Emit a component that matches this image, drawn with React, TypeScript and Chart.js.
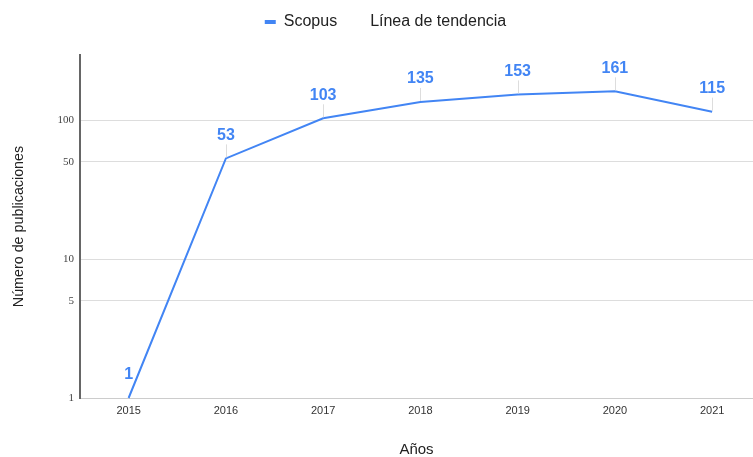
import React, { useEffect, useRef } from "react";
import { Chart, registerables } from "chart.js";

Chart.register(...registerables);

const years = [2015, 2016, 2017, 2018, 2019, 2020, 2021];
const scopusValues = [1, 53, 103, 135, 153, 161, 115];
const yTicks = [1, 5, 10, 50, 100];
const seriesName = "Scopus";
const trendName = "Línea de tendencia";
const xTitle = "Años";
const yTitle = "Número de publicaciones";

const BLUE = "#4285F4";
const SANS = "'Liberation Sans', Arial, sans-serif";

const legendHeightPlugin = {
  id: "legendHeight",
  beforeLayout(chart: any) {
    const lg = chart.legend;
    if (lg && !lg._fixedHeight) {
      const orig = lg.fit.bind(lg);
      lg.fit = function () {
        orig();
        this.height = 55;
      };
      lg._fixedHeight = true;
    }
    chart._legendShifted = false;
  },
  beforeDraw(chart: any) {
    const lg = chart.legend;
    if (lg && !chart._legendShifted) {
      lg.left += 9;
      lg.right += 9;
      chart._legendShifted = true;
    }
  },
};

const dataLabelsPlugin = {
  id: "dataLabels",
  afterDatasetsDraw(chart: any) {
    const meta = chart.getDatasetMeta(0);
    const ctx = chart.ctx;
    ctx.save();
    meta.data.forEach((pt: any, i: number) => {
      const x = pt.x;
      const y = pt.y;
      const ly = y - 23;
      if (i > 0) {
        ctx.strokeStyle = "#dddddd";
        ctx.lineWidth = 1;
        ctx.beginPath();
        ctx.moveTo(Math.round(x) + 0.5, ly + 9);
        ctx.lineTo(Math.round(x) + 0.5, y - 1);
        ctx.stroke();
      }
      ctx.fillStyle = BLUE;
      ctx.font = "bold 16px " + SANS;
      ctx.textAlign = "center";
      ctx.textBaseline = "middle";
      ctx.fillText(String(scopusValues[i]), x, ly);
    });
    ctx.restore();
  },
};

export default function App() {
  const ref = useRef<HTMLCanvasElement | null>(null);
  useEffect(() => {
    if (!ref.current) return;
    const chart = new Chart(ref.current, {
      type: "line",
      data: {
        datasets: [
          {
            label: seriesName,
            data: years.map((y, i) => ({ x: y, y: scopusValues[i] })),
            borderColor: BLUE,
            backgroundColor: BLUE,
            borderWidth: 2,
            pointRadius: 0,
            tension: 0,
            clip: false as any,
          },
          {
            label: trendName,
            data: [],
            borderColor: "rgba(0,0,0,0)",
            backgroundColor: "rgba(0,0,0,0)",
            borderWidth: 0,
            pointRadius: 0,
          },
        ],
      },
      options: {
        responsive: false,
        animation: false,
        layout: { padding: { top: 0, left: 0, right: 0, bottom: 0 } },
        plugins: {
          tooltip: { enabled: false },
          legend: {
            position: "top",
            labels: {
              font: { size: 16, family: SANS },
              color: "#222222",
              boxWidth: 11,
              boxHeight: 4,
              padding: 14,
              generateLabels(chart: any) {
                const items = (Chart as any).defaults.plugins.legend.labels.generateLabels(chart);
                return items.map((it: any) => ({ ...it, lineWidth: 0 }));
              },
            },
          },
        },
        scales: {
          x: {
            type: "linear",
            min: 2014.5,
            max: 2021.42,
            afterBuildTicks(scale: any) {
              scale.ticks = years.map((v) => ({ value: v }));
            },
            afterFit(scale: any) {
              scale.height = 59;
            },
            ticks: {
              callback: (v: any) => String(v),
              font: { size: 11, family: SANS },
              color: "#333333",
              padding: 6,
              autoSkip: false,
              maxRotation: 0,
            },
            grid: { display: false, drawTicks: false },
            border: { display: true, color: "#cccccc", width: 1 },
            title: {
              display: true,
              text: xTitle,
              font: { size: 15, family: SANS, lineHeight: 1 },
              color: "#222222",
              padding: { top: 0, bottom: 0 },
            },
          },
          y: {
            type: "logarithmic",
            min: 1,
            max: 294,
            afterBuildTicks(scale: any) {
              scale.ticks = yTicks.map((v) => ({ value: v }));
            },
            afterFit(scale: any) {
              scale.width = 80;
            },
            ticks: {
              callback: (v: any) => String(v),
              font: { size: 11, family: "'Liberation Serif', 'DejaVu Serif', serif" },
              color: "#444444",
              padding: 6,
            },
            grid: { color: "#dddddd", lineWidth: 1, drawTicks: false },
            border: { display: true, color: "#666666", width: 2 },
            title: {
              display: true,
              text: yTitle,
              font: { size: 14.3, family: SANS, lineHeight: 1.2 },
              color: "#222222",
              padding: { top: 10, bottom: 0 },
            },
          },
        },
      } as any,
      plugins: [legendHeightPlugin, dataLabelsPlugin],
    });
    return () => chart.destroy();
  }, []);
  return (
    <div style={{ position: "fixed", left: 0, top: 0, width: 753, height: 457, background: "#ffffff" }}>
      <canvas ref={ref} width={753} height={457} style={{ width: 753, height: 457, display: "block" }} />
    </div>
  );
}
